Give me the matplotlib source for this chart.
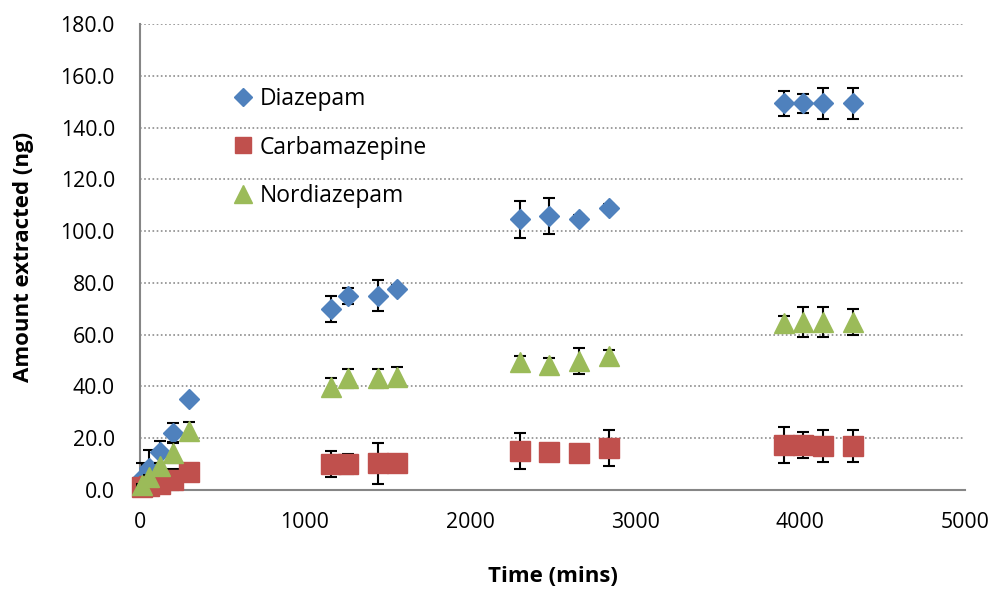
import matplotlib.pyplot as plt
from matplotlib.lines import Line2D
from matplotlib.ticker import FormatStrFormatter

plt.rcParams['font.family'] = ['Open Sans', 'DejaVu Sans']

# Sampling times (mins) shared by all three compounds
time_mins = [10, 55, 120, 200, 300, 1160, 1260, 1440, 1560,
             2300, 2480, 2660, 2840, 3900, 4020, 4140, 4320]

diazepam = [4.5, 8.5, 14.8, 22.1, 35.3, 69.8, 74.9, 75.1, 77.5,
            104.5, 105.8, 104.8, 108.8, 149.3, 149.3, 149.3, 149.3]
diazepam_err = [6.0, 7.0, 4.2, 3.7, 0.8, 5.1, 3.0, 6.0, 1.5,
                7.0, 7.0, 1.5, 1.5, 4.9, 3.5, 6.0, 6.0]

carbamazepine = [1.0, 1.5, 2.5, 4.0, 6.8, 9.9, 10.0, 10.3, 10.5,
                 15.2, 14.8, 14.4, 16.1, 17.3, 17.5, 17.0, 17.0]
carbamazepine_err = [1.0, 1.0, 1.0, 4.0, 1.0, 5.0, 4.0, 8.0, 1.0,
                     7.0, 1.0, 1.0, 7.0, 7.0, 5.0, 6.0, 6.0]

nordiazepam = [1.9, 5.1, 9.3, 14.2, 22.8, 39.9, 43.1, 43.1, 43.8,
               49.6, 48.3, 49.8, 51.8, 64.4, 64.9, 64.9, 64.8]
nordiazepam_err = [0.5, 0.8, 1.0, 3.8, 3.6, 3.5, 3.6, 3.6, 3.7,
                   2.0, 2.8, 5.0, 2.2, 3.0, 5.9, 5.9, 5.0]

series = [
    ("Diazepam", diazepam, diazepam_err, "D", 10.5, "#4F81BD"),
    ("Carbamazepine", carbamazepine, carbamazepine_err, "s", 13.8, "#C0504D"),
    ("Nordiazepam", nordiazepam, nordiazepam_err, "^", 14.6, "#9BBB59"),
]

fig = plt.figure(figsize=(9.95, 5.9), dpi=100)
ax = fig.add_axes([140 / 995, 1 - 490 / 590, 825 / 995, 466 / 590])

handles = []
for i, (name, vals, errs, marker, ms, color) in enumerate(series):
    ax.errorbar(time_mins, vals, yerr=errs, fmt=marker, ms=ms, color=color,
                mec=color, ecolor="black", elinewidth=1.5, capsize=4.5,
                capthick=1.5, zorder=3 + i, clip_on=False)
    handles.append(Line2D([], [], linestyle="none", marker=marker,
                          color=color, ms=ms * 0.85))

ax.set_xlim(0, 5000)
ax.set_ylim(0, 180)
ax.set_xticks(range(0, 5001, 1000))
ax.set_yticks(range(0, 181, 20))
ax.yaxis.set_major_formatter(FormatStrFormatter("%.1f"))
ax.tick_params(length=0, labelsize=15.3, colors="black")
ax.tick_params(axis="y", pad=18)
ax.tick_params(axis="x", pad=16)

ax.yaxis.grid(True, color="#8c8c8c", linestyle=(0, (1, 1.5)), linewidth=1.2)
ax.set_axisbelow(True)
for side in ("top", "right"):
    ax.spines[side].set_visible(False)
for side in ("left", "bottom"):
    ax.spines[side].set_color("#868686")
    ax.spines[side].set_linewidth(1.5)

ax.set_xlabel("Time (mins)", fontsize=16, fontweight="bold")
ax.set_ylabel("Amount extracted (ng)", fontsize=16, fontweight="bold")
ax.xaxis.set_label_coords(0.5, (490 - 577) / 466, transform=ax.transAxes)
ax.yaxis.set_label_coords((24 - 140) / 825, 0.5, transform=ax.transAxes)
ax.xaxis.label.set_va("center")
ax.yaxis.label.set_va("center")

ax.legend(handles, [s[0] for s in series], loc="upper left",
          bbox_to_anchor=(218 / 995, 1 - 76 / 590),
          bbox_transform=fig.transFigure, frameon=False, fontsize=16.5,
          handletextpad=0.1, labelspacing=1.05, handlelength=1.2,
          borderpad=0)

fig.savefig("out.png", dpi=100)
